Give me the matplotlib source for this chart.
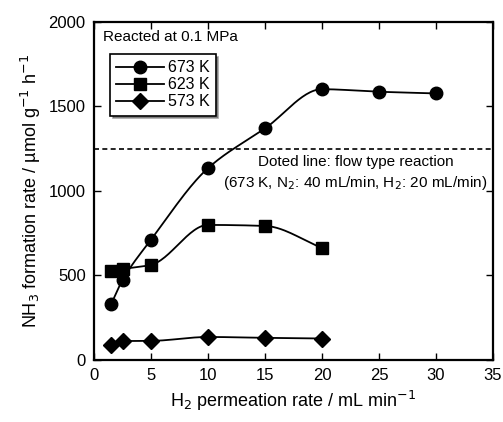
import numpy as np
import matplotlib.pyplot as plt

plt.rcParams['font.family'] = ['Liberation Sans', 'DejaVu Sans']

x_673 = [1.5, 2.5, 5, 10, 15, 20, 25, 30]
y_673 = [330, 473, 712, 1135, 1370, 1602, 1587, 1577]
x_623 = [1.5, 2.5, 5, 10, 15, 20]
y_623 = [527, 538, 563, 799, 793, 663]
x_573 = [1.5, 2.5, 5, 10, 15, 20]
y_573 = [89, 112, 113, 136, 131, 127]
flow_rate = 1250


def smooth(xs, ys, n=30):
    # monotone cubic (PCHIP) curve through the measured points, for drawing only
    x = np.asarray(xs, float)
    y = np.asarray(ys, float)
    h = np.diff(x)
    d = np.diff(y) / h
    m = np.zeros_like(y)
    for i in range(1, len(x) - 1):
        if d[i - 1] * d[i] > 0:
            w1 = 2 * h[i] + h[i - 1]
            w2 = h[i] + 2 * h[i - 1]
            m[i] = (w1 + w2) / (w1 / d[i - 1] + w2 / d[i])
    m[0] = d[0]
    m[-1] = d[-1]
    sx, sy = [], []
    for i in range(len(x) - 1):
        t = np.linspace(0, 1, n)
        h00 = 2 * t ** 3 - 3 * t ** 2 + 1
        h10 = t ** 3 - 2 * t ** 2 + t
        h01 = -2 * t ** 3 + 3 * t ** 2
        h11 = t ** 3 - t ** 2
        sx.append(x[i] + t * h[i])
        sy.append(h00 * y[i] + h10 * h[i] * m[i] + h01 * y[i + 1] + h11 * h[i] * m[i + 1])
    return np.concatenate(sx), np.concatenate(sy)


fig = plt.figure(figsize=(5.03, 4.22), dpi=100)
ax = fig.add_axes([0.187, 0.147, 0.793, 0.801])

series = [(x_673, y_673, 'o', '673 K', 9),
          (x_623, y_623, 's', '623 K', 9),
          (x_573, y_573, 'D', '573 K', 8)]
for xs, ys, m, lab, ms in series:
    sx, sy = smooth(xs, ys)
    ax.plot(sx, sy, color='black', lw=1.3)
    ax.plot(xs, ys, m, color='black', ms=ms, ls='none')
    ax.plot([], [], marker=m, color='black', ms=ms, lw=1.3, label=lab)

ax.axhline(flow_rate, color='black', ls=(0, (3, 2)), lw=1.2)

ax.set_xlim(0, 35)
ax.set_ylim(0, 2000)
ax.set_xticks(np.arange(0, 36, 5))
ax.set_yticks(np.arange(0, 2001, 500))
ax.tick_params(direction='in', top=True, right=True, length=5, width=1,
               labelsize=12, pad=6)
for s in ax.spines.values():
    s.set_linewidth(1.6)

ax.set_xlabel('H$_2$ permeation rate / mL min$^{-1}$', fontsize=13)
ax.set_ylabel('NH$_3$ formation rate / \u00b5mol g$^{-1}$ h$^{-1}$', fontsize=13)

ax.text(0.022, 0.955, 'Reacted at 0.1 MPa', transform=ax.transAxes,
        fontsize=11, va='center', ha='left')
leg = ax.legend(loc='upper left', bbox_to_anchor=(0.04, 0.905), fontsize=11.5,
                frameon=True, fancybox=False, shadow=True, handlelength=3.0,
                handletextpad=0.2, labelspacing=0.12, borderpad=0.4,
                borderaxespad=0)
leg.get_frame().set_edgecolor('black')
leg.get_frame().set_linewidth(1.2)

ax.text(0.655, 0.585, 'Doted line: flow type reaction', transform=ax.transAxes,
        fontsize=11, ha='center', va='center')
ax.text(0.655, 0.525, '(673 K, N$_2$: 40 mL/min, H$_2$: 20 mL/min)',
        transform=ax.transAxes, fontsize=11, ha='center', va='center')

fig.savefig('out.png', dpi=100)
